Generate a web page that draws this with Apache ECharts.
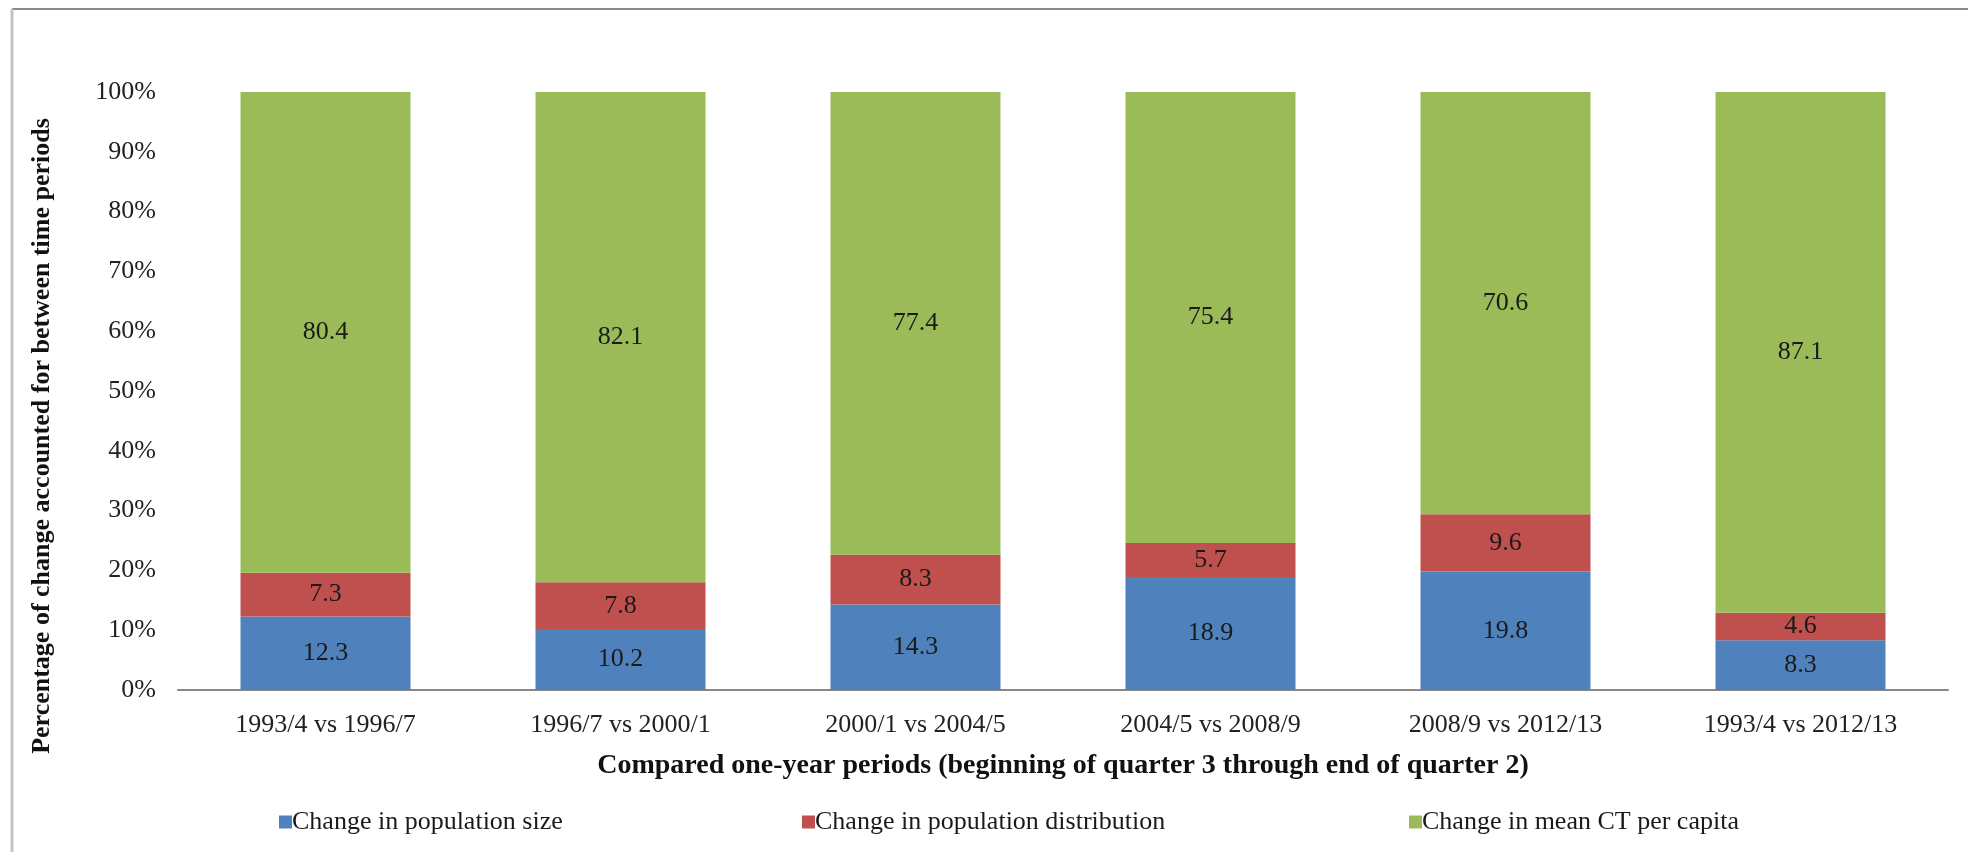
<!DOCTYPE html>
<html>
<head>
<meta charset="utf-8"/>
<title>Percentage of change accounted for between time periods</title>
<script src="https://cdn.jsdelivr.net/npm/echarts@6/dist/echarts.min.js"></script>
<style>
    html, body { margin: 0; padding: 0; background: #fff; }
    #chart { width: 1968px; height: 852px; }
</style>
</head>
<body>
<div id="chart"></div>
<script>
    // categories and values
    var periods = ['1993/4 vs 1996/7', '1996/7 vs 2000/1', '2000/1 vs 2004/5',
                   '2004/5 vs 2008/9', '2008/9 vs 2012/13', '1993/4 vs 2012/13'];
    var popSize = [12.3, 10.2, 14.3, 18.9, 19.8, 8.3];
    var popDist = [7.3, 7.8, 8.3, 5.7, 9.6, 4.6];
    var meanCT = [80.4, 82.1, 77.4, 75.4, 70.6, 87.1];
    var seriesNames = ['Change in population size', 'Change in population distribution', 'Change in mean CT per capita'];
    var colors = ['#4F81BD', '#C0504D', '#9BBB59'];

    var font = 'Liberation Serif, Times New Roman, serif';
    var legendLeft = [274, 797, 1404];

    function makeSeries(name, data, color) {
        return {
            name: name,
            type: 'bar',
            stack: 'total',
            barWidth: 170,
            itemStyle: { color: color },
            label: {
                show: true,
                position: 'inside',
                color: '#1a1a1a',
                fontFamily: font,
                fontSize: 26
            },
            data: data
        };
    }

    // one legend per item, the gaps in the picture are not even
    var legends = seriesNames.map(function (n, i) {
        return {
            left: legendLeft[i],
            top: 804,
            itemWidth: 13,
            itemHeight: 13,
            itemGap: 0,
            icon: 'rect',
            textStyle: { fontFamily: font, fontSize: 26, color: '#1a1a1a', padding: [0, 0, 0, -5] },
            data: [n]
        };
    });

    var chart = echarts.init(document.getElementById('chart'));
    chart.setOption({
        animation: false,
        backgroundColor: '#fff',
        grid: { left: 178, right: 20, top: 92, bottom: 162 },
        legend: legends,
        xAxis: {
            type: 'category',
            data: periods,
            name: 'Compared one-year periods (beginning of quarter 3 through end of quarter 2)',
            nameLocation: 'middle',
            nameGap: 62,
            nameTextStyle: { fontFamily: font, fontSize: 28, fontWeight: 'bold', color: '#111' },
            axisLine: { lineStyle: { color: '#888', width: 2 } },
            axisTick: { show: false },
            axisLabel: { fontFamily: font, fontSize: 26, color: '#222', margin: 22 }
        },
        yAxis: {
            type: 'value',
            min: 0,
            max: 100,
            interval: 10,
            axisLine: { show: false },
            axisTick: { show: false },
            splitLine: { show: false },
            axisLabel: {
                fontFamily: font, fontSize: 26, color: '#222', margin: 22,
                formatter: '{value}%'
            }
        },
        graphic: [
            { type: 'line', shape: { x1: 12, y1: 9, x2: 1968, y2: 9 }, style: { stroke: '#8a8a8a', lineWidth: 2 } },
            { type: 'line', shape: { x1: 12, y1: 9, x2: 12, y2: 852 }, style: { stroke: '#c4c4c4', lineWidth: 3 } },
            {
                type: 'text',
                x: 42, y: 436,
                rotation: Math.PI / 2,
                style: {
                    text: 'Percentage of change accounted for between time periods',
                    fontFamily: font, fontSize: 26, fontWeight: 'bold', fill: '#111',
                    textAlign: 'center', textVerticalAlign: 'middle'
                }
            }
        ],
        series: [
            makeSeries(seriesNames[0], popSize, colors[0]),
            makeSeries(seriesNames[1], popDist, colors[1]),
            makeSeries(seriesNames[2], meanCT, colors[2])
        ]
    });
</script>
</body>
</html>
